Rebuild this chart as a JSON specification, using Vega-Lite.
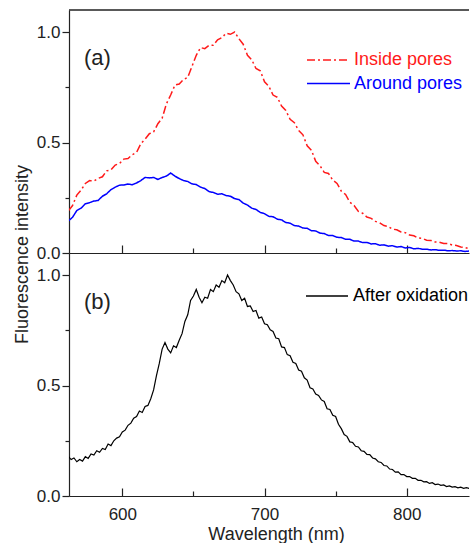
{
  "$schema": "https://vega.github.io/schema/vega-lite/v6.json",
  "padding": {"left": 13, "top": 9, "right": 0, "bottom": 0},
  "background": "white",
  "bounds": "flush",
  "spacing": 0,
  "config": {
    "view": {"stroke": null},
    "font": "Liberation Sans",
    "axis": {"grid": false, "domainColor": "#222", "domainWidth": 1.2, "tickColor": "#222", "tickWidth": 1.2, "labelFont": "Liberation Sans", "labelFontSize": 17, "labelColor": "#222", "titleFont": "Liberation Sans", "titleFontSize": 18, "titleFontWeight": "normal", "titleColor": "#222", "labelOverlap": false, "labelFlush": false}
  },
  "resolve": {"scale": {"color": "independent", "strokeDash": "independent"}, "legend": {"color": "independent", "strokeDash": "independent"}},
  "datasets": {
    "top": [
      {"s":"Inside pores","wl":562,"v":0.19},{"s":"Inside pores","wl":565,"v":0.215},{"s":"Inside pores","wl":568,"v":0.262},{"s":"Inside pores","wl":571,"v":0.285},{"s":"Inside pores","wl":574,"v":0.315},{"s":"Inside pores","wl":577,"v":0.328},{"s":"Inside pores","wl":580,"v":0.325},{"s":"Inside pores","wl":583,"v":0.338},{"s":"Inside pores","wl":586,"v":0.345},{"s":"Inside pores","wl":589,"v":0.372},{"s":"Inside pores","wl":592,"v":0.376},{"s":"Inside pores","wl":595,"v":0.398},{"s":"Inside pores","wl":598,"v":0.405},{"s":"Inside pores","wl":601,"v":0.425},{"s":"Inside pores","wl":604,"v":0.428},{"s":"Inside pores","wl":607,"v":0.445},{"s":"Inside pores","wl":610,"v":0.455},{"s":"Inside pores","wl":613,"v":0.495},{"s":"Inside pores","wl":616,"v":0.515},{"s":"Inside pores","wl":619,"v":0.54},{"s":"Inside pores","wl":622,"v":0.548},{"s":"Inside pores","wl":625,"v":0.585},{"s":"Inside pores","wl":628,"v":0.61},{"s":"Inside pores","wl":631,"v":0.675},{"s":"Inside pores","wl":634,"v":0.715},{"s":"Inside pores","wl":637,"v":0.76},{"s":"Inside pores","wl":640,"v":0.765},{"s":"Inside pores","wl":643,"v":0.785},{"s":"Inside pores","wl":646,"v":0.795},{"s":"Inside pores","wl":649,"v":0.845},{"s":"Inside pores","wl":652,"v":0.895},{"s":"Inside pores","wl":655,"v":0.93},{"s":"Inside pores","wl":658,"v":0.925},{"s":"Inside pores","wl":661,"v":0.94},{"s":"Inside pores","wl":664,"v":0.94},{"s":"Inside pores","wl":667,"v":0.965},{"s":"Inside pores","wl":670,"v":0.975},{"s":"Inside pores","wl":673,"v":0.995},{"s":"Inside pores","wl":676,"v":0.99},{"s":"Inside pores","wl":679,"v":1.0},{"s":"Inside pores","wl":682,"v":0.97},{"s":"Inside pores","wl":685,"v":0.945},{"s":"Inside pores","wl":688,"v":0.895},{"s":"Inside pores","wl":691,"v":0.875},{"s":"Inside pores","wl":694,"v":0.835},{"s":"Inside pores","wl":697,"v":0.825},{"s":"Inside pores","wl":700,"v":0.775},{"s":"Inside pores","wl":703,"v":0.755},{"s":"Inside pores","wl":706,"v":0.715},{"s":"Inside pores","wl":709,"v":0.705},{"s":"Inside pores","wl":712,"v":0.665},{"s":"Inside pores","wl":715,"v":0.645},{"s":"Inside pores","wl":718,"v":0.605},{"s":"Inside pores","wl":721,"v":0.59},{"s":"Inside pores","wl":724,"v":0.555},{"s":"Inside pores","wl":727,"v":0.535},{"s":"Inside pores","wl":730,"v":0.485},{"s":"Inside pores","wl":733,"v":0.465},{"s":"Inside pores","wl":736,"v":0.415},{"s":"Inside pores","wl":739,"v":0.395},{"s":"Inside pores","wl":742,"v":0.365},{"s":"Inside pores","wl":745,"v":0.36},{"s":"Inside pores","wl":748,"v":0.33},{"s":"Inside pores","wl":751,"v":0.315},{"s":"Inside pores","wl":754,"v":0.28},{"s":"Inside pores","wl":757,"v":0.265},{"s":"Inside pores","wl":760,"v":0.23},{"s":"Inside pores","wl":763,"v":0.215},{"s":"Inside pores","wl":766,"v":0.188},{"s":"Inside pores","wl":769,"v":0.18},{"s":"Inside pores","wl":772,"v":0.163},{"s":"Inside pores","wl":775,"v":0.157},{"s":"Inside pores","wl":778,"v":0.143},{"s":"Inside pores","wl":781,"v":0.137},{"s":"Inside pores","wl":784,"v":0.124},{"s":"Inside pores","wl":787,"v":0.12},{"s":"Inside pores","wl":790,"v":0.108},{"s":"Inside pores","wl":793,"v":0.105},{"s":"Inside pores","wl":796,"v":0.095},{"s":"Inside pores","wl":799,"v":0.092},{"s":"Inside pores","wl":802,"v":0.081},{"s":"Inside pores","wl":805,"v":0.078},{"s":"Inside pores","wl":808,"v":0.068},{"s":"Inside pores","wl":811,"v":0.066},{"s":"Inside pores","wl":814,"v":0.058},{"s":"Inside pores","wl":817,"v":0.057},{"s":"Inside pores","wl":820,"v":0.05},{"s":"Inside pores","wl":823,"v":0.049},{"s":"Inside pores","wl":826,"v":0.043},{"s":"Inside pores","wl":829,"v":0.043},{"s":"Inside pores","wl":832,"v":0.036},{"s":"Inside pores","wl":835,"v":0.034},{"s":"Inside pores","wl":838,"v":0.027},{"s":"Inside pores","wl":841,"v":0.025},{"s":"Inside pores","wl":844,"v":0.019},{"s":"Inside pores","wl":846,"v":0.018},
      {"s":"Around pores","wl":562,"v":0.144},{"s":"Around pores","wl":565,"v":0.162},{"s":"Around pores","wl":568,"v":0.192},{"s":"Around pores","wl":571,"v":0.203},{"s":"Around pores","wl":574,"v":0.223},{"s":"Around pores","wl":577,"v":0.228},{"s":"Around pores","wl":580,"v":0.235},{"s":"Around pores","wl":583,"v":0.238},{"s":"Around pores","wl":586,"v":0.257},{"s":"Around pores","wl":589,"v":0.268},{"s":"Around pores","wl":592,"v":0.287},{"s":"Around pores","wl":595,"v":0.298},{"s":"Around pores","wl":598,"v":0.307},{"s":"Around pores","wl":601,"v":0.308},{"s":"Around pores","wl":604,"v":0.312},{"s":"Around pores","wl":607,"v":0.309},{"s":"Around pores","wl":610,"v":0.317},{"s":"Around pores","wl":613,"v":0.328},{"s":"Around pores","wl":616,"v":0.342},{"s":"Around pores","wl":619,"v":0.34},{"s":"Around pores","wl":622,"v":0.342},{"s":"Around pores","wl":625,"v":0.333},{"s":"Around pores","wl":628,"v":0.342},{"s":"Around pores","wl":631,"v":0.348},{"s":"Around pores","wl":634,"v":0.362},{"s":"Around pores","wl":637,"v":0.348},{"s":"Around pores","wl":640,"v":0.337},{"s":"Around pores","wl":643,"v":0.328},{"s":"Around pores","wl":646,"v":0.324},{"s":"Around pores","wl":649,"v":0.313},{"s":"Around pores","wl":652,"v":0.31},{"s":"Around pores","wl":655,"v":0.298},{"s":"Around pores","wl":658,"v":0.292},{"s":"Around pores","wl":661,"v":0.278},{"s":"Around pores","wl":664,"v":0.274},{"s":"Around pores","wl":667,"v":0.266},{"s":"Around pores","wl":670,"v":0.268},{"s":"Around pores","wl":673,"v":0.26},{"s":"Around pores","wl":676,"v":0.257},{"s":"Around pores","wl":679,"v":0.246},{"s":"Around pores","wl":682,"v":0.242},{"s":"Around pores","wl":685,"v":0.226},{"s":"Around pores","wl":688,"v":0.217},{"s":"Around pores","wl":691,"v":0.203},{"s":"Around pores","wl":694,"v":0.197},{"s":"Around pores","wl":697,"v":0.184},{"s":"Around pores","wl":700,"v":0.178},{"s":"Around pores","wl":703,"v":0.166},{"s":"Around pores","wl":706,"v":0.164},{"s":"Around pores","wl":709,"v":0.153},{"s":"Around pores","wl":712,"v":0.15},{"s":"Around pores","wl":715,"v":0.138},{"s":"Around pores","wl":718,"v":0.135},{"s":"Around pores","wl":721,"v":0.124},{"s":"Around pores","wl":724,"v":0.122},{"s":"Around pores","wl":727,"v":0.113},{"s":"Around pores","wl":730,"v":0.112},{"s":"Around pores","wl":733,"v":0.101},{"s":"Around pores","wl":736,"v":0.1},{"s":"Around pores","wl":739,"v":0.09},{"s":"Around pores","wl":742,"v":0.088},{"s":"Around pores","wl":745,"v":0.079},{"s":"Around pores","wl":748,"v":0.079},{"s":"Around pores","wl":751,"v":0.071},{"s":"Around pores","wl":754,"v":0.07},{"s":"Around pores","wl":757,"v":0.062},{"s":"Around pores","wl":760,"v":0.062},{"s":"Around pores","wl":763,"v":0.054},{"s":"Around pores","wl":766,"v":0.054},{"s":"Around pores","wl":769,"v":0.047},{"s":"Around pores","wl":772,"v":0.048},{"s":"Around pores","wl":775,"v":0.041},{"s":"Around pores","wl":778,"v":0.042},{"s":"Around pores","wl":781,"v":0.035},{"s":"Around pores","wl":784,"v":0.037},{"s":"Around pores","wl":787,"v":0.031},{"s":"Around pores","wl":790,"v":0.033},{"s":"Around pores","wl":793,"v":0.027},{"s":"Around pores","wl":796,"v":0.029},{"s":"Around pores","wl":799,"v":0.023},{"s":"Around pores","wl":802,"v":0.025},{"s":"Around pores","wl":805,"v":0.019},{"s":"Around pores","wl":808,"v":0.021},{"s":"Around pores","wl":811,"v":0.017},{"s":"Around pores","wl":814,"v":0.017},{"s":"Around pores","wl":817,"v":0.014},{"s":"Around pores","wl":820,"v":0.015},{"s":"Around pores","wl":823,"v":0.012},{"s":"Around pores","wl":826,"v":0.013},{"s":"Around pores","wl":829,"v":0.01},{"s":"Around pores","wl":832,"v":0.011},{"s":"Around pores","wl":835,"v":0.009},{"s":"Around pores","wl":838,"v":0.01},{"s":"Around pores","wl":841,"v":0.007},{"s":"Around pores","wl":844,"v":0.009},{"s":"Around pores","wl":846,"v":0.008}
    ],
    "after": [
      {"wl":562,"v":0.18},{"wl":564,"v":0.165},{"wl":566,"v":0.172},{"wl":568,"v":0.155},{"wl":570,"v":0.165},{"wl":572,"v":0.158},{"wl":574,"v":0.178},{"wl":576,"v":0.17},{"wl":578,"v":0.19},{"wl":580,"v":0.185},{"wl":582,"v":0.205},{"wl":584,"v":0.198},{"wl":586,"v":0.215},{"wl":588,"v":0.21},{"wl":590,"v":0.235},{"wl":592,"v":0.228},{"wl":594,"v":0.25},{"wl":596,"v":0.262},{"wl":598,"v":0.268},{"wl":600,"v":0.29},{"wl":602,"v":0.298},{"wl":604,"v":0.32},{"wl":606,"v":0.33},{"wl":608,"v":0.352},{"wl":610,"v":0.36},{"wl":612,"v":0.385},{"wl":614,"v":0.378},{"wl":616,"v":0.405},{"wl":618,"v":0.41},{"wl":620,"v":0.44},{"wl":622,"v":0.48},{"wl":624,"v":0.545},{"wl":626,"v":0.6},{"wl":628,"v":0.665},{"wl":630,"v":0.695},{"wl":632,"v":0.665},{"wl":634,"v":0.648},{"wl":636,"v":0.68},{"wl":638,"v":0.672},{"wl":640,"v":0.705},{"wl":642,"v":0.735},{"wl":644,"v":0.79},{"wl":646,"v":0.82},{"wl":648,"v":0.885},{"wl":650,"v":0.905},{"wl":652,"v":0.935},{"wl":654,"v":0.9},{"wl":656,"v":0.875},{"wl":658,"v":0.9},{"wl":660,"v":0.895},{"wl":662,"v":0.935},{"wl":664,"v":0.925},{"wl":666,"v":0.955},{"wl":668,"v":0.945},{"wl":670,"v":0.975},{"wl":672,"v":0.965},{"wl":674,"v":1.0},{"wl":676,"v":0.975},{"wl":678,"v":0.955},{"wl":680,"v":0.925},{"wl":682,"v":0.915},{"wl":684,"v":0.885},{"wl":686,"v":0.895},{"wl":688,"v":0.858},{"wl":690,"v":0.86},{"wl":692,"v":0.835},{"wl":694,"v":0.84},{"wl":696,"v":0.805},{"wl":698,"v":0.81},{"wl":700,"v":0.78},{"wl":702,"v":0.775},{"wl":704,"v":0.752},{"wl":706,"v":0.745},{"wl":708,"v":0.715},{"wl":710,"v":0.712},{"wl":712,"v":0.675},{"wl":714,"v":0.672},{"wl":716,"v":0.64},{"wl":718,"v":0.635},{"wl":720,"v":0.605},{"wl":722,"v":0.6},{"wl":724,"v":0.57},{"wl":726,"v":0.565},{"wl":728,"v":0.535},{"wl":730,"v":0.525},{"wl":732,"v":0.49},{"wl":734,"v":0.485},{"wl":736,"v":0.462},{"wl":738,"v":0.455},{"wl":740,"v":0.435},{"wl":742,"v":0.428},{"wl":744,"v":0.395},{"wl":746,"v":0.392},{"wl":748,"v":0.365},{"wl":750,"v":0.36},{"wl":752,"v":0.325},{"wl":754,"v":0.305},{"wl":756,"v":0.278},{"wl":758,"v":0.27},{"wl":760,"v":0.245},{"wl":762,"v":0.242},{"wl":764,"v":0.225},{"wl":766,"v":0.222},{"wl":768,"v":0.205},{"wl":770,"v":0.202},{"wl":772,"v":0.188},{"wl":774,"v":0.187},{"wl":776,"v":0.172},{"wl":778,"v":0.168},{"wl":780,"v":0.155},{"wl":782,"v":0.152},{"wl":784,"v":0.138},{"wl":786,"v":0.136},{"wl":788,"v":0.122},{"wl":790,"v":0.12},{"wl":792,"v":0.108},{"wl":794,"v":0.109},{"wl":796,"v":0.097},{"wl":798,"v":0.097},{"wl":800,"v":0.088},{"wl":802,"v":0.088},{"wl":804,"v":0.08},{"wl":806,"v":0.08},{"wl":808,"v":0.071},{"wl":810,"v":0.071},{"wl":812,"v":0.064},{"wl":814,"v":0.065},{"wl":816,"v":0.057},{"wl":818,"v":0.06},{"wl":820,"v":0.052},{"wl":822,"v":0.054},{"wl":824,"v":0.048},{"wl":826,"v":0.05},{"wl":828,"v":0.043},{"wl":830,"v":0.046},{"wl":832,"v":0.04},{"wl":834,"v":0.042},{"wl":836,"v":0.037},{"wl":838,"v":0.04},{"wl":840,"v":0.035},{"wl":842,"v":0.038},{"wl":844,"v":0.034},{"wl":846,"v":0.036}
    ]
  },
  "vconcat": [
    {
      "width": 400,
      "height": 243,
      "title": {"text": "(a)", "anchor": "start", "frame": "group", "orient": "top", "offset": 0, "baseline": "alphabetic", "dx": 15, "dy": 78, "fontSize": 22, "font": "Liberation Sans", "fontWeight": "normal", "color": "#222"},
      "resolve": {"axis": {"y": "independent"}},
      "layer": [
        {
          "data": {"values": [{}]},
          "mark": {"type": "rule", "color": "#222", "strokeWidth": 1.4},
          "encoding": {
            "y": {"datum": 1.1, "type": "quantitative", "axis": null}
          }
        },
        {
          "data": {"name": "top"},
          "mark": {"type": "line", "strokeWidth": 1.5, "clip": true},
          "encoding": {
            "x": {"field": "wl", "type": "quantitative", "scale": {"domain": [562.5, 843.8], "nice": false, "zero": false},
                  "axis": {"values": [600, 650, 700, 750, 800], "labels": false, "title": null, "tickSize": {"condition": {"test": "datum.value % 100", "value": -5}, "value": -8}}},
            "y": {"field": "v", "type": "quantitative", "scale": {"domain": [0, 1.1], "nice": false, "zero": false},
                  "axis": {"orient": "left", "values": [0, 0.25, 0.5, 0.75, 1], "labelExpr": "datum.value * 4 % 2 ? '' : format(datum.value, '.1f')", "tickSize": {"condition": {"test": "datum.value * 4 % 2", "value": 4}, "value": 7}, "labelPadding": 2, "title": "Fluorescence intensity", "titleX": -42, "titleY": 244, "titleAngle": -90, "titleAlign": "center", "titleBaseline": "alphabetic"}},
            "color": {"field": "s", "type": "nominal", "sort": ["Inside pores", "Around pores"], "scale": {"domain": ["Inside pores", "Around pores"], "range": ["#ff1a1a", "#0000ff"]},
                      "legend": {"title": null, "orient": "none", "legendX": 237, "legendY": 41, "symbolType": "stroke", "symbolSize": 1849, "symbolStrokeWidth": 1.6, "labelFont": "Liberation Sans", "labelFontSize": 18, "labelOffset": 3, "clipHeight": 18, "rowPadding": 5.5, "padding": 0, "encode": {"labels": {"update": {"fill": {"signal": "datum.value === 'Inside pores' ? '#ff1a1a' : '#0000ff'"}}}}}},
            "strokeDash": {"field": "s", "type": "nominal", "sort": ["Inside pores", "Around pores"], "scale": {"domain": ["Inside pores", "Around pores"], "range": [[8, 3, 2, 3], [1, 0]]},
                      "legend": {"title": null, "orient": "none", "legendX": 237, "legendY": 41, "symbolType": "stroke", "symbolSize": 1849, "symbolStrokeWidth": 1.6, "labelFont": "Liberation Sans", "labelFontSize": 18, "labelOffset": 3, "clipHeight": 18, "rowPadding": 5.5, "padding": 0, "encode": {"labels": {"update": {"fill": {"signal": "datum.value === 'Inside pores' ? '#ff1a1a' : '#0000ff'"}}}}}}
          }
        }
      ]
    },
    {
      "width": 400,
      "height": 243,
      "title": {"text": "(b)", "anchor": "start", "frame": "group", "orient": "top", "offset": 0, "baseline": "alphabetic", "dx": 15, "dy": 78, "fontSize": 22, "font": "Liberation Sans", "fontWeight": "normal", "color": "#222"},
      "data": {"name": "after"},
      "mark": {"type": "line", "strokeWidth": 1.2, "clip": true},
      "encoding": {
        "x": {"field": "wl", "type": "quantitative", "scale": {"domain": [562.5, 843.8], "nice": false, "zero": false},
              "axis": {"values": [600, 650, 700, 750, 800], "labelExpr": "datum.value % 100 ? '' : datum.label", "tickSize": {"condition": {"test": "datum.value % 100", "value": -5}, "value": -8}, "labelPadding": 31, "labelBaseline": "alphabetic", "title": "Wavelength (nm)", "titleX": 207, "titleY": 43, "titleAlign": "center", "titleBaseline": "alphabetic"}},
        "y": {"field": "v", "type": "quantitative", "scale": {"domain": [0, 1.1], "nice": false, "zero": false},
              "axis": {"values": [0, 0.25, 0.5, 0.75, 1], "labelExpr": "datum.value * 4 % 2 ? '' : format(datum.value, '.1f')", "tickSize": {"condition": {"test": "datum.value * 4 % 2", "value": 4}, "value": 7}, "labelPadding": 2, "title": null}},
        "color": {"datum": "After oxidation", "type": "nominal", "scale": {"domain": ["After oxidation"], "range": ["#000000"]},
                  "legend": {"title": null, "orient": "none", "legendX": 236, "legendY": 34, "symbolType": "stroke", "symbolSize": 1764, "symbolStrokeWidth": 1.5, "labelFont": "Liberation Sans", "labelFontSize": 18, "labelColor": "#000", "labelOffset": 4, "clipHeight": 18, "padding": 0}}
      }
    }
  ]
}
